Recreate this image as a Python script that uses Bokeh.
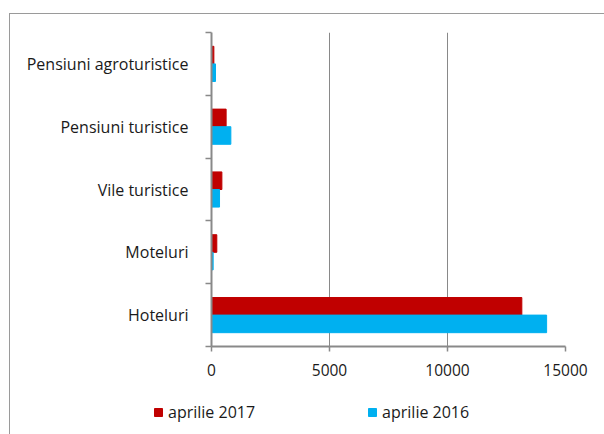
from bokeh.plotting import figure
from bokeh.layouts import column
from bokeh.models import FixedTicker, Legend, LegendItem, Range1d, ColumnDataSource
from bokeh.embed import file_html
from bokeh.resources import INLINE

# Data (bottom to top)
categories = ["Hoteluri", "Moteluri", "Vile turistice", "Pensiuni turistice", "Pensiuni agroturistice"]
aprilie_2017 = [13150, 225, 440, 620, 100]
aprilie_2016 = [14200, 70, 340, 820, 170]
x_ticks = [0, 5000, 10000, 15000]
series_names = ["aprilie 2017", "aprilie 2016"]

RED = "#C00000"
BLUE = "#00B0F0"
GRAY = "#898989"
TXT = "#1a1a1a"
FONT = "Open Sans"

centers = [i + 0.5 for i in range(len(categories))]
src = ColumnDataSource(dict(
    y17=[c + 0.14 for c in centers],
    y16=[c - 0.14 for c in centers],
    v17=aprilie_2017,
    v16=aprilie_2016,
))

W, H1, H2 = 594, 380, 40
p = figure(width=W, height=H1, output_backend="svg", toolbar_location=None,
           x_range=Range1d(0, 15000), y_range=Range1d(0, len(categories)),
           min_border_left=201, min_border_right=39, min_border_top=18, min_border_bottom=48)
p.outline_line_color = None
p.background_fill_color = "white"
p.border_fill_color = "white"

p.hbar(y="y17", right="v17", left=0, height=0.28, source=src, fill_color=RED, line_color=RED)
p.hbar(y="y16", right="v16", left=0, height=0.28, source=src, fill_color=BLUE, line_color=BLUE)

# x axis
p.xaxis.ticker = FixedTicker(ticks=x_ticks)
p.xaxis.axis_line_color = GRAY
p.xaxis.axis_line_width = 2
p.xaxis.major_tick_line_color = GRAY
p.xaxis.major_tick_line_width = 1.5
p.xaxis.major_tick_out = 5
p.xaxis.major_tick_in = 0
p.xaxis.minor_tick_line_color = None
p.xaxis.major_label_text_font = FONT
p.xaxis.major_label_text_font_size = "15.5px"
p.xaxis.major_label_text_color = TXT
p.xaxis.major_label_standoff = 12

# y axis: labels at centres, ticks at boundaries
p.yaxis.ticker = FixedTicker(ticks=centers, minor_ticks=list(range(len(categories) + 1)))
p.yaxis.major_label_overrides = {c: name for c, name in zip(centers, categories)}
p.yaxis.axis_line_color = GRAY
p.yaxis.axis_line_width = 2
p.yaxis.major_tick_line_color = None
p.yaxis.minor_tick_line_color = GRAY
p.yaxis.minor_tick_line_width = 1.5
p.yaxis.minor_tick_out = 6
p.yaxis.minor_tick_in = 0
p.yaxis.major_label_text_font = FONT
p.yaxis.major_label_text_font_size = "16px"
p.yaxis.major_label_text_color = TXT
p.yaxis.major_label_standoff = 17

p.xgrid.grid_line_color = GRAY
p.xgrid.grid_line_width = 1
p.ygrid.grid_line_color = None

# legend strip below the chart (its bars lie outside its ranges; only the legend shows)
lf = figure(width=W, height=H2, output_backend="svg", toolbar_location=None,
            x_axis_location=None, y_axis_location=None,
            x_range=Range1d(0, 1), y_range=Range1d(100, 101),
            min_border_left=0, min_border_right=0, min_border_top=0, min_border_bottom=0)
lf.grid.visible = False
lf.outline_line_color = None
lf.border_fill_color = "white"
lf.background_fill_color = "white"
l17 = lf.hbar(y="y17", right="v17", left=0, height=0.28, source=src, fill_color=RED, line_color=RED)
l16 = lf.hbar(y="y16", right="v16", left=0, height=0.28, source=src, fill_color=BLUE, line_color=BLUE)

legend_x = 143
if "frame_align" in lf.properties():
    lf.frame_align = False
    p.frame_align = False
else:
    legend_x = 143 - 201

legend = Legend(items=[LegendItem(label=series_names[0], renderers=[l17]),
                       LegendItem(label=series_names[1], renderers=[l16])],
                orientation="horizontal", location=(legend_x, 11),
                padding=0, margin=0, spacing=112, label_standoff=5,
                glyph_width=10, glyph_height=10, label_height=20,
                border_line_color=None, background_fill_alpha=0,
                label_text_font=FONT, label_text_font_size="16px",
                label_text_color=TXT)
lf.add_layout(legend, "center")

layout = column(p, lf, spacing=0)
layout.margin = (13, 0, 0, 9)
layout.styles = {"border-left": "1px solid #9a9a9a", "border-top": "1px solid #9a9a9a",
                 "background-color": "white"}

open("out.html", "w").write(file_html(layout, INLINE))
